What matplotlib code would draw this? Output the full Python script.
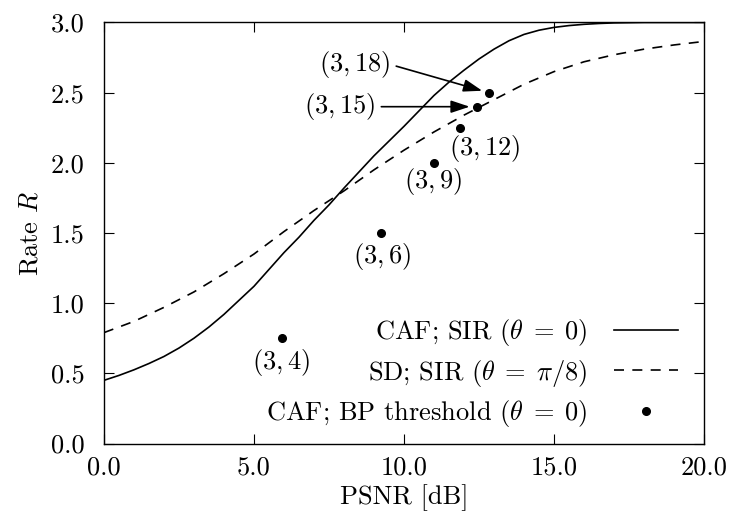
import matplotlib
matplotlib.use("Agg")
import matplotlib.pyplot as plt
from matplotlib.ticker import FormatStrFormatter, MultipleLocator

plt.rcParams["font.family"] = ["cmr10", "DejaVu Serif"]
plt.rcParams["mathtext.fontset"] = "cm"
plt.rcParams["axes.formatter.use_mathtext"] = True
plt.rcParams["font.size"] = 19

# CAF; SIR (theta = 0) -- solid curve
caf_x = [0, 0.5, 1, 1.5, 2, 2.5, 3, 3.5, 4, 4.5, 5, 5.5, 6, 6.5, 7, 7.5, 8,
         8.5, 9, 9.5, 10, 10.5, 11, 11.5, 12, 12.5, 13, 13.5, 14, 14.5, 15,
         15.5, 16, 16.5, 17, 18, 20]
caf_y = [0.45, 0.485, 0.525, 0.57, 0.62, 0.68, 0.75, 0.83, 0.92, 1.02, 1.12,
         1.24, 1.36, 1.47, 1.59, 1.70, 1.82, 1.935, 2.05, 2.155, 2.26, 2.37,
         2.48, 2.575, 2.66, 2.74, 2.81, 2.87, 2.915, 2.945, 2.965, 2.978,
         2.987, 2.993, 2.997, 3.0, 3.0]

# SD; SIR (theta = pi/8) -- dashed curve
sd_x = [0, 1, 2, 3, 4, 5, 6, 7, 8, 9, 10, 11, 12, 13, 14, 15, 16, 17, 18, 19, 20]
sd_y = [0.79, 0.87, 0.97, 1.08, 1.21, 1.35, 1.51, 1.66, 1.80, 1.95, 2.09,
        2.22, 2.34, 2.45, 2.56, 2.65, 2.72, 2.77, 2.81, 2.84, 2.865]

# CAF; BP thresholds
bp_labels = ["(3,4)", "(3,6)", "(3,9)", "(3,12)", "(3,15)", "(3,18)"]
bp_x = [5.92, 9.22, 11.0, 11.87, 12.42, 12.83]
bp_y = [0.75, 1.50, 2.00, 2.25, 2.40, 2.50]

fig = plt.figure(figsize=(7.53, 5.23), dpi=100)
ax = fig.add_axes([0.138, 0.152, 0.797, 0.805])

ax.plot(caf_x, caf_y, color="black", lw=1.2, label=r"CAF; SIR ($\theta\;=\;0$)")
ax.plot(sd_x, sd_y, color="black", lw=1.2, linestyle=(0, (6, 5)),
        label=r"SD; SIR ($\theta\;=\;\pi/8$)")
ax.plot(bp_x, bp_y, "o", color="black", ms=5.5,
        label=r"CAF; BP threshold ($\theta\;=\;0$)")

# text positions of the plain point labels
label_pos = {
    "(3,4)": (5.92, 0.58),
    "(3,6)": (9.26, 1.33),
    "(3,9)": (10.98, 1.87),
    "(3,12)": (12.7, 2.10),
}
for lab, x, y in zip(bp_labels, bp_x, bp_y):
    if lab in label_pos:
        tx, ty = label_pos[lab]
        ax.text(tx, ty, "$" + lab + "$", ha="center", va="center")

arrow = dict(arrowstyle="-|>,head_length=0.6,head_width=0.2", color="black",
             lw=1.2, relpos=(1.0, 0.5), shrinkA=2, shrinkB=5)
ax.annotate("$" + bp_labels[5] + "$", xy=(bp_x[5], bp_y[5]), xytext=(8.37, 2.70),
            ha="center", va="center", arrowprops=arrow)
ax.annotate("$" + bp_labels[4] + "$", xy=(bp_x[4], bp_y[4]), xytext=(7.87, 2.40),
            ha="center", va="center", arrowprops=arrow)

ax.set_xlim(0, 20)
ax.set_ylim(0, 3)
ax.xaxis.set_major_locator(MultipleLocator(5))
ax.yaxis.set_major_locator(MultipleLocator(0.5))
ax.xaxis.set_major_formatter(FormatStrFormatter("%.1f"))
ax.yaxis.set_major_formatter(FormatStrFormatter("%.1f"))
ax.tick_params(direction="in", top=True, right=True, length=7, width=0.8)
ax.tick_params(axis="x", pad=9)
ax.tick_params(axis="y", pad=14)
for s in ax.spines.values():
    s.set_linewidth(1.0)

ax.set_xlabel("PSNR [dB]", labelpad=3)
ax.set_ylabel(r"Rate $R$", labelpad=6)

ax.legend(loc="lower right", bbox_to_anchor=(0.975, 0.01), borderaxespad=0,
          frameon=False, markerfirst=False, handlelength=2.45,
          labelspacing=0.35, handletextpad=1.0)

fig.savefig("out.png", dpi=100)
